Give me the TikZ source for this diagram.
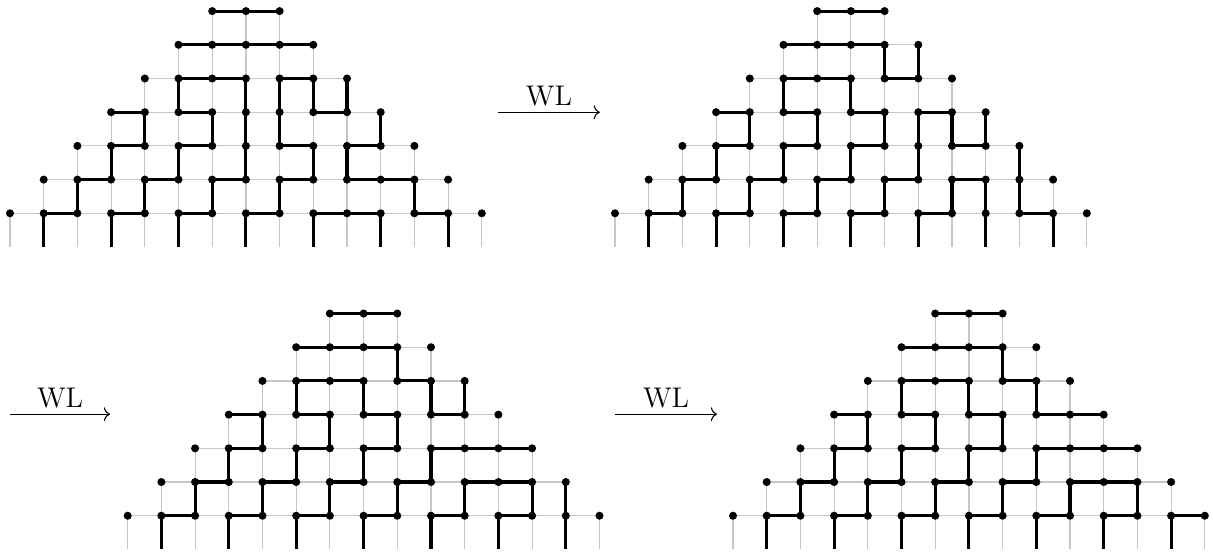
\documentclass[tikz,border=0pt]{standalone}
\usetikzlibrary{arrows.meta}

\tikzset{
  gridedge/.style={draw=black!22, line width=0.5pt},
  loopedge/.style={draw=black, line width=1.3pt},
  latticept/.style={circle, fill=black, inner sep=0pt, minimum size=3.4pt},
  wlarrow/.style={draw=black, line width=0.45pt, -{To[length=2.6pt,width=5.8pt]}},
  wllabel/.style={above=2.5pt, inner sep=0pt, font=\fontsize{12}{14}\selectfont},
}

% #1 name, #2 shift of the bottom-left point, #3 black horizontal edges c/r
% (from (c,r) to (c+1,r)), #4 black vertical edges c/r (from (c,r) down to (c,r-1))
\newcommand{\fpltriangle}[4]{%
  \begin{scope}[shift={#2}]
    \foreach \c in {0,...,14} {\coordinate (#1-\c--1) at (\c,-1);}
    \foreach \r in {0,...,6} {
      \pgfmathtruncatemacro{\hi}{14-\r}
      \foreach \c in {\r,...,\hi} {\coordinate (#1-\c-\r) at (\c,\r);}
    }
  \end{scope}
  % light lattice
  \foreach \r in {0,...,6} {
    \pgfmathtruncatemacro{\hi}{14-\r}
    \pgfmathtruncatemacro{\lo}{\r-1}
    \foreach \c in {\r,...,\hi} {\draw[gridedge] (#1-\c-\r) -- (#1-\c-\lo);}
    \pgfmathtruncatemacro{\hm}{13-\r}
    \foreach \c in {\r,...,\hm} {
      \pgfmathtruncatemacro{\n}{\c+1}
      \draw[gridedge] (#1-\c-\r) -- (#1-\n-\r);
    }
  }
  % occupied edges
  \foreach \c/\r in {#3} {
    \pgfmathtruncatemacro{\n}{\c+1}
    \draw[loopedge] (#1-\c-\r) -- (#1-\n-\r);
  }
  \foreach \c/\r in {#4} {
    \pgfmathtruncatemacro{\lo}{\r-1}
    \draw[loopedge] (#1-\c-\r) -- (#1-\c-\lo);
  }
  % vertices
  \foreach \r in {0,...,6} {
    \pgfmathtruncatemacro{\hi}{14-\r}
    \foreach \c in {\r,...,\hi} {\node[latticept] (#1-v-\c-\r) at (#1-\c-\r) {};}
  }
}

\begin{document}
\begin{tikzpicture}[x=0.5cm, y=0.5cm]
  \useasboundingbox (0,0) rectangle (35.994,-16.409);

  \fpltriangle{A}{(0.297,-6.329)}%
    {6/6,7/6,5/5,6/5,7/5,8/5,5/4,6/4,8/4,3/3,5/3,9/3,3/2,5/2,8/2,10/2,2/1,4/1,6/1,8/1,10/1,11/1,1/0,3/0,5/0,7/0,9/0,10/0,12/0}%
    {5/4,7/4,8/4,9/4,10/4,4/3,6/3,7/3,8/3,11/3,3/2,5/2,7/2,9/2,10/2,2/1,4/1,6/1,8/1,12/1,1/0,3/0,5/0,7/0,9/0,11/0,13/0}

  \fpltriangle{B}{(18.249,-6.329)}%
    {6/6,7/6,5/5,6/5,7/5,5/4,6/4,8/4,3/3,5/3,7/3,9/3,3/2,5/2,7/2,10/2,2/1,4/1,6/1,8/1,10/1,1/0,3/0,5/0,7/0,9/0,12/0}%
    {8/5,9/5,5/4,7/4,4/3,6/3,8/3,9/3,10/3,11/3,3/2,5/2,7/2,9/2,12/2,2/1,4/1,6/1,8/1,10/1,11/1,12/1,1/0,3/0,5/0,7/0,9/0,11/0,13/0}

  \fpltriangle{C}{(3.789,-15.303)}%
    {6/6,7/6,5/5,6/5,7/5,5/4,6/4,8/4,3/3,5/3,7/3,9/3,3/2,5/2,7/2,9/2,10/2,11/2,2/1,4/1,6/1,8/1,10/1,11/1,1/0,3/0,5/0,7/0,9/0,11/0}%
    {8/5,5/4,7/4,9/4,10/4,4/3,6/3,8/3,3/2,5/2,7/2,9/2,2/1,4/1,6/1,8/1,10/1,12/1,13/1,1/0,3/0,5/0,7/0,9/0,11/0,13/0}

  \fpltriangle{D}{(21.751,-15.303)}%
    {6/6,7/6,5/5,6/5,7/5,5/4,6/4,8/4,3/3,5/3,7/3,9/3,10/3,3/2,5/2,7/2,9/2,10/2,11/2,2/1,4/1,6/1,8/1,10/1,11/1,1/0,3/0,5/0,7/0,9/0,11/0,13/0}%
    {8/5,5/4,7/4,9/4,4/3,6/3,8/3,3/2,5/2,7/2,9/2,2/1,4/1,6/1,8/1,10/1,12/1,1/0,3/0,5/0,7/0,9/0,11/0,13/0}

  % Wieland gyration arrows
  \coordinate (w1s) at (14.78,-3.33);
  \coordinate (w1e) at (17.80,-3.33);
  \coordinate (w2s) at (0.297,-12.29);
  \coordinate (w2e) at (3.264,-12.29);
  \coordinate (w3s) at (18.249,-12.29);
  \coordinate (w3e) at (21.276,-12.29);
  \draw[wlarrow] (w1s) -- node[wllabel] {WL} (w1e);
  \draw[wlarrow] (w2s) -- node[wllabel] {WL} (w2e);
  \draw[wlarrow] (w3s) -- node[wllabel] {WL} (w3e);
\end{tikzpicture}
\end{document}
